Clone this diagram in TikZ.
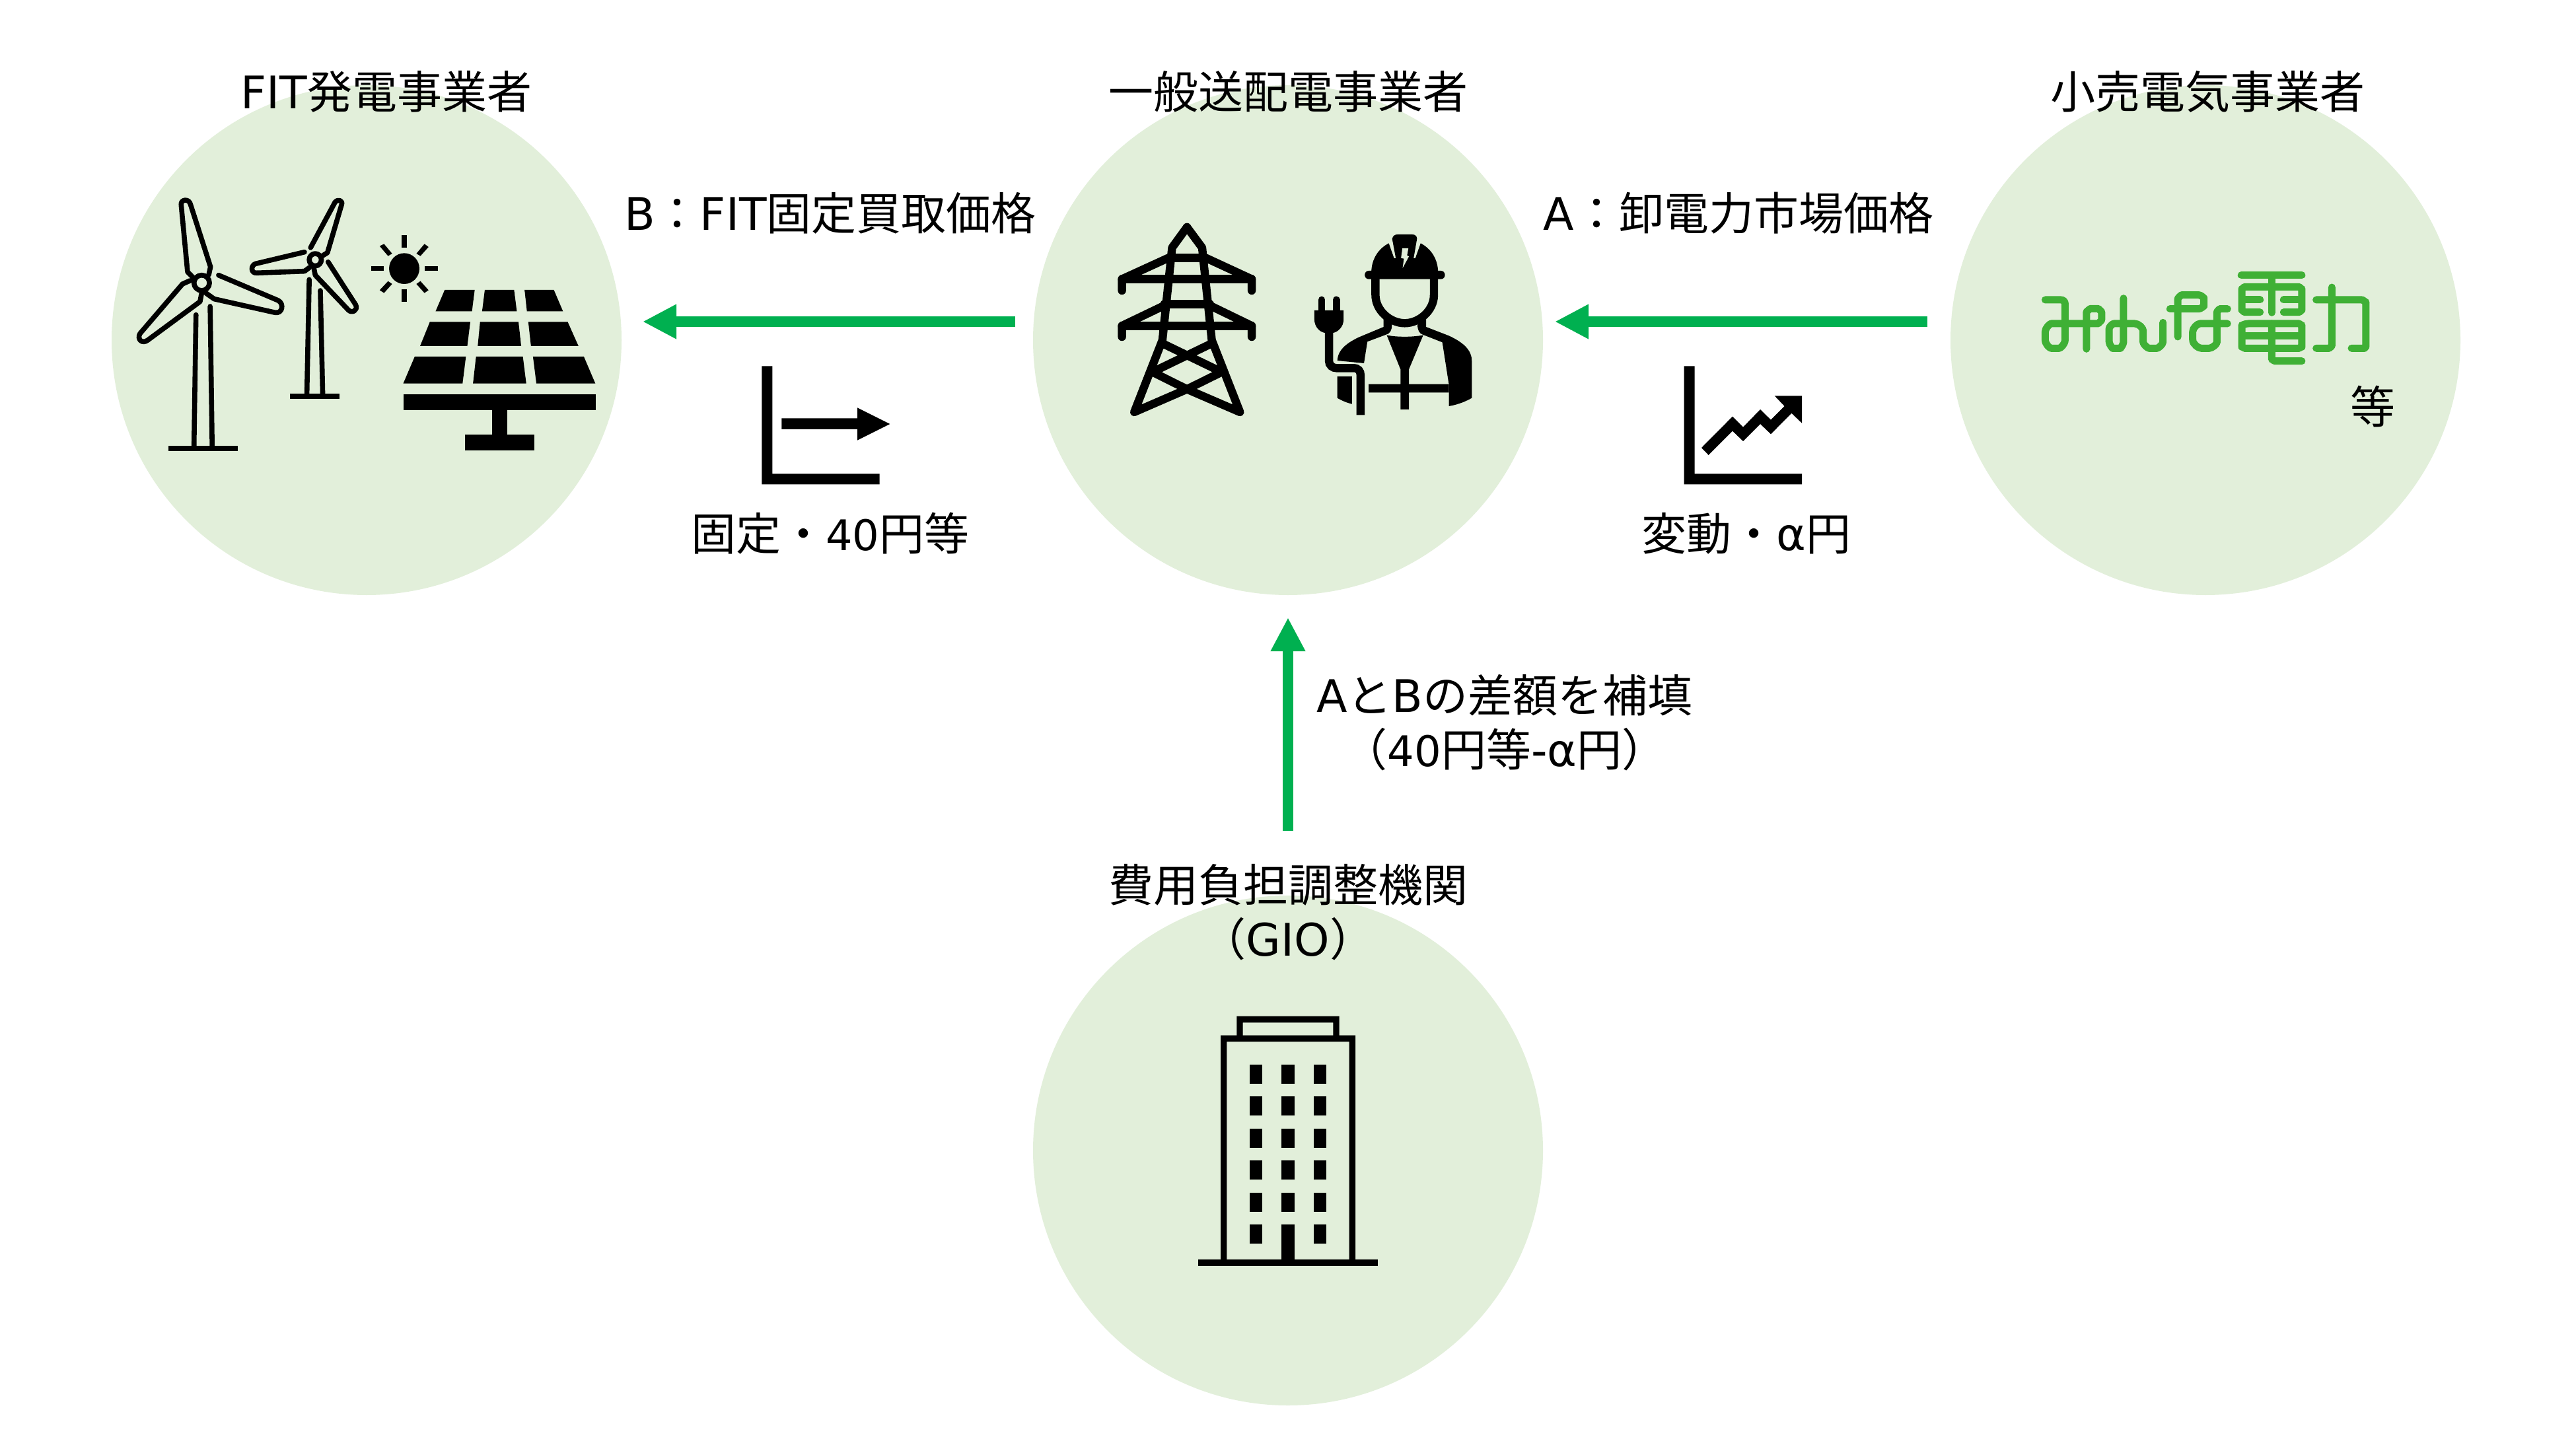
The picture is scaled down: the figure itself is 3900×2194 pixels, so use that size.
\documentclass[tikz,border=0pt]{standalone}
\usepackage{fontspec}
\setmainfont{Noto Sans CJK JP}
\newfontfamily\latinface{DejaVu Sans}
\newfontfamily\digitface[Scale=0.94]{DejaVu Sans}
\newcommand{\ltn}[1]{{\latinface #1}}
\newcommand{\dgt}[1]{{\digitface #1}}
\usetikzlibrary{arrows.meta}
\definecolor{circ}{HTML}{E2EFDA}
\definecolor{arrowgreen}{HTML}{00B050}
\definecolor{logogreen}{HTML}{3FB035}
\tikzset{
  stage/.style={circle,fill=circ,draw=none,minimum size=193pt,inner sep=0pt},
  lab/.style={font=\fontsize{17pt}{20.5pt}\selectfont,inner sep=0pt,align=center,text=black},
  flow/.style={draw=arrowgreen,line width=4.1pt,-{Triangle[length=12.8pt,width=12.3pt]}},
  zA/.style={shift={(160,260)},x=0.12755pt,y=-0.08333pt},
  zB/.style={shift={(1650,320)},x=0.09881pt,y=-0.08333pt},
  zC/.style={shift={(3060,380)},x=0.09881pt,y=-0.08333pt},
  zD/.style={shift={(1780,1500)},x=0.08333pt,y=-0.08333pt},
  zE/.style={shift={(1120,520)},x=0.08333pt,y=-0.08333pt},
  zF/.style={shift={(2520,520)},x=0.08333pt,y=-0.08333pt},
  blade/.style={draw=black,line width=1.9pt,line join=round,line cap=round},
  tower/.style={draw=black,line width=3.1pt,line join=round,line cap=round},
  logo/.style={draw=logogreen,line width=2.75pt,line join=round,line cap=round,rounded corners=1.5pt},
}
\begin{document}
\begin{tikzpicture}[x=0.25pt,y=-0.25pt]
\useasboundingbox (0,0) rectangle (3900,2194);
\fill[white] (0,0) rectangle (3900,2194);
% stages
\node[stage] (gen) at (555,515) {};
\node[stage] (tso) at (1950,515) {};
\node[stage] (ret) at (3339,515) {};
\node[stage] (gio) at (1950,1742) {};
% labels
\node[lab] (tgen) at (585,139) {\ltn{FIT}発電事業者};
\node[lab] (ttso) at (1950,139) {一般送配電事業者};
\node[lab] (tret) at (3342,139) {小売電気事業者};
\node[lab] (lb) at (1257,323) {\ltn{B}：\ltn{FIT}固定買取価格};
\node[lab] (la) at (2632,323) {\ltn{A}：卸電力市場価格};
\node[lab] (fix) at (1257,808) {固定・\dgt{40}円等};
\node[lab] (var) at (2644,808) {変動・\ltn{α}円};
\node[lab] (diff) at (2278,1094) {\ltn{A}と\ltn{B}の差額を補填\\（\dgt{40}円等\ltn{-α}円）};
\node[lab] (tgio) at (1950,1381) {費用負担調整機関\\（\ltn{GIO}）};
\node[lab] (etc) at (3592,615) {等};
% connectors
\coordinate (a1s) at (1537,487);
\coordinate (a1e) at (973,487);
\coordinate (a2s) at (2918,487);
\coordinate (a2e) at (2354,487);
\coordinate (a3s) at (1950,1258);
\coordinate (a3e) at (1950,935);
\draw[flow] (a1s) -- (a1e);
\draw[flow] (a2s) -- (a2e);
\draw[flow] (a3s) -- (a3e);
% wind + solar
\begin{scope}[zA]
 \fill (187,1245) rectangle (392,1270);
 \draw[blade] (268,650) -- (262,1250);
 \draw[blade] (310,612) -- (316,1250);
 \draw[blade] (262,485) -- (243,455) -- (224,150) .. controls (222,125) and (248,120) .. (252,150) -- (311,432) -- (306,468);
 \draw[blade] (335,470) -- (512,585) .. controls (530,600) and (525,645) .. (503,640) -- (322,578) -- (298,552);
 \draw[blade] (250,495) -- (228,510) -- (102,735) .. controls (92,760) and (108,785) .. (125,765) -- (280,590) -- (285,550);
 \draw[blade] (285,505) ellipse [x radius=23,y radius=35];
 \fill (547,1007) rectangle (693,1032);
 \draw[blade] (604,490) -- (597,1010);
 \draw[blade] (637,540) -- (644,1010);
 \draw[blade] (608,345) -- (680,140) .. controls (688,122) and (705,130) .. (700,150) -- (658,368) -- (640,385);
 \draw[blade] (590,365) -- (445,418) .. controls (430,425) and (430,462) .. (448,460) -- (590,452) -- (605,435);
 \draw[blade] (660,410) -- (742,605) .. controls (750,630) and (730,645) .. (720,628) -- (622,470) -- (618,440);
 \draw[blade] (622,400) ellipse [x radius=18,y radius=28];
 % sun
 \fill (886,440) ellipse [x radius=45,y radius=70];
 \fill (879,288) rectangle (893,346);
 \fill (879,534) rectangle (893,592);
 \fill (787,428) rectangle (825,451);
 \fill (947,428) rectangle (985,451);
 \fill (813,338) -- (826,328) -- (850,372) -- (838,383) -- cycle;
 \fill (946,328) -- (958,342) -- (934,383) -- (922,372) -- cycle;
 \fill (838,497) -- (850,510) -- (826,551) -- (813,538) -- cycle;
 \fill (934,497) -- (922,510) -- (946,551) -- (958,538) -- cycle;
 % panel
 \fill (1006,537) -- (1095,537) -- (1087,634) -- (979,634) -- cycle;
 \fill (1125,537) -- (1212,537) -- (1220,634) -- (1117,634) -- cycle;
 \fill (1243,537) -- (1330,537) -- (1357,634) -- (1250,634) -- cycle;
 \fill (962,682) -- (1082,682) -- (1073,792) -- (933,792) -- cycle;
 \fill (1111,682) -- (1225,682) -- (1233,792) -- (1104,792) -- cycle;
 \fill (1254,682) -- (1371,682) -- (1403,792) -- (1262,792) -- cycle;
 \fill (917,840) -- (1069,840) -- (1059,962) -- (883,962) -- cycle;
 \fill (1099,840) -- (1238,840) -- (1248,962) -- (1090,962) -- cycle;
 \fill (1268,840) -- (1419,840) -- (1453,962) -- (1278,962) -- cycle;
 \fill (883,1010) rectangle (1454,1084);
 \fill (1146,1084) rectangle (1192,1195);
 \fill (1066,1195) rectangle (1272,1265);
\end{scope}
% pylon + worker
\begin{scope}[zB]
 \draw[tower] (372,72) -- (315,165) -- (278,585) -- (170,912) -- (372,808) -- (505,730) -- (278,600);
 \draw[tower] (372,72) -- (430,165) -- (467,585) -- (575,912) -- (372,808) -- (240,730) -- (467,600);
 \draw[tower] (315,212) -- (430,212);
 \draw[tower] (123,360) -- (123,308) -- (300,212);
 \draw[tower] (620,360) -- (620,308) -- (445,212);
 \draw[tower] (123,308) -- (620,308);
 \draw[tower] (123,570) -- (123,520) -- (290,425);
 \draw[tower] (620,570) -- (620,520) -- (455,425);
 \draw[tower] (123,520) -- (620,520);
 \draw[tower] (285,422) -- (460,422);
 % helmet
 \fill[rounded corners=1.5pt] (1053,270) rectangle (1360,308);
 \fill (1078,275) .. controls (1080,215) and (1105,170) .. (1145,145) -- (1165,212) -- (1165,275) -- cycle;
 \fill (1334,275) .. controls (1332,215) and (1307,170) .. (1267,145) -- (1247,212) -- (1247,275) -- cycle;
 \fill (1172,214) -- (1158,125) .. controls (1160,112) and (1168,105) .. (1178,105) -- (1235,105) .. controls (1245,105) and (1253,112) .. (1253,125) -- (1240,214) -- cycle;
 \fill (1160,212) rectangle (1252,275);
 \fill[circ] (1197,168) -- (1220,168) -- (1215,200) -- (1222,205) -- (1198,258) -- (1203,215) -- (1192,212) -- cycle;
 \draw[black,line width=3.1pt] (1094,305) -- (1094,380) .. controls (1094,450) and (1150,508) .. (1206,508) .. controls (1262,508) and (1318,450) .. (1318,380) -- (1318,305);
 % shoulders
 \fill (1125,480) -- (1125,525) -- (1030,572) .. controls (990,595) and (950,625) .. (948,678) -- (1050,690) -- (1063,592) -- (1135,560) .. controls (1150,555) and (1157,540) .. (1157,515) -- cycle;
 \fill (1288,480) -- (1288,525) -- (1375,565) .. controls (1430,595) and (1463,630) .. (1463,680) -- (1463,848) .. controls (1430,870) and (1400,880) .. (1375,885) -- (1375,785) -- (1350,595) -- (1275,560) .. controls (1262,555) and (1255,540) .. (1255,515) -- cycle;
 \fill (1137,562) .. controls (1170,572) and (1240,572) .. (1277,562) -- (1222,718) -- (1222,785) -- (1375,785) -- (1375,823) -- (1222,823) -- (1222,900) -- (1190,900) -- (1190,823) -- (1068,823) -- (1068,785) -- (1190,785) -- (1190,718) -- cycle;
 \fill (948,750) -- (1004,750) -- (1004,875) .. controls (985,870) and (965,860) .. (948,848) -- cycle;
 % plug
 \fill (860,450) -- (972,450) -- (972,490) .. controls (972,525) and (950,548) .. (932,552) -- (900,552) .. controls (880,548) and (860,525) .. (860,490) -- cycle;
 \draw[black,line width=2.7pt,line cap=round] (888,402) -- (888,455);
 \draw[black,line width=2.7pt,line cap=round] (944,402) -- (944,455);
 \draw[black,line width=3.1pt] (916,550) -- (916,680) .. controls (916,700) and (930,712) .. (945,712) -- (1010,712) .. controls (1028,712) and (1037,725) .. (1037,745) -- (1037,925);
\end{scope}
% logo
\begin{scope}[zC]
 \draw[logo] (92,222) -- (168,222) -- (168,385) .. controls (168,425) and (150,442) .. (130,442) .. controls (110,442) and (92,425) .. (92,385) .. controls (92,350) and (110,330) .. (130,330) -- (250,330);
 \draw[logo] (250,445) -- (250,295) .. controls (250,275) and (265,262) .. (280,262) .. controls (295,262) and (308,275) .. (308,295) .. controls (308,315) and (295,330) .. (280,330) -- (250,330);
 \draw[logo] (392,215) -- (392,395) .. controls (392,425) and (380,442) .. (365,442) .. controls (350,442) and (337,425) .. (337,395) -- (337,370) .. controls (337,345) and (350,330) .. (370,330) -- (420,330) .. controls (450,330) and (467,350) .. (467,380) -- (467,395) .. controls (467,425) and (485,442) .. (505,442) .. controls (525,442) and (543,425) .. (543,395) -- (543,325);
 \draw[logo] (570,263) -- (600,263);
 \draw[logo] (600,390) -- (600,235) .. controls (600,215) and (612,200) .. (630,200) -- (665,200) .. controls (690,200) and (700,215) .. (700,232) .. controls (700,250) and (688,263) .. (665,263) -- (600,263);
 \draw[logo] (790,263) -- (775,263) .. controls (760,263) and (750,275) .. (750,295) -- (750,395) .. controls (750,425) and (730,442) .. (705,442) .. controls (680,442) and (657,425) .. (657,385) .. controls (657,350) and (675,330) .. (700,330) -- (790,330);
 \draw[logo] (843,110) -- (1075,110);
 \draw[logo] (960,110) -- (960,280);
 \draw[logo] (915,278) -- (870,278) .. controls (855,278) and (845,268) .. (845,250) -- (845,190) .. controls (845,175) and (855,163) .. (870,163) -- (1050,163) .. controls (1065,163) and (1075,175) .. (1075,190) -- (1075,250) .. controls (1075,268) and (1065,278) .. (1050,278) -- (1005,278);
 \draw[logo] (858,222) -- (915,222);
 \draw[logo] (1005,222) -- (1062,222);
 \draw[logo] (870,330) -- (1050,330) .. controls (1065,330) and (1075,340) .. (1075,355) -- (1075,418) .. controls (1075,432) and (1065,442) .. (1050,442) -- (870,442) .. controls (855,442) and (845,432) .. (845,418) -- (845,355) .. controls (845,340) and (855,330) .. (870,330);
 \draw[logo] (858,386) -- (1062,386);
 \draw[logo] (960,330) -- (960,475) .. controls (960,490) and (970,500) .. (985,500) -- (1075,500);
 \draw[logo] (1190,165) -- (1190,412) .. controls (1190,432) and (1180,442) .. (1165,442) -- (1130,442);
 \draw[logo] (1130,222) -- (1290,222) .. controls (1310,222) and (1320,235) .. (1320,250) -- (1320,418) .. controls (1320,432) and (1312,442) .. (1300,442) -- (1265,442);
\end{scope}
% building
\begin{scope}[zD]
 \fill (102,1222) rectangle (918,1251);
 \fill[even odd rule] (204,203) rectangle (816,1230) (232,232) rectangle (788,1230);
 \fill[even odd rule] (277,116) rectangle (743,210) (305,145) rectangle (715,210);
 \foreach \yy in {335,480,626,771,917,1063} {
   \fill (335,\yy) rectangle +(58,87);
   \fill (627,\yy) rectangle +(58,87);
 }
 \foreach \yy in {335,480,626,771,917} {
   \fill (481,\yy) rectangle +(58,87);
 }
 \fill (481,1063) rectangle (539,1230);
\end{scope}
% fixed-price chart
\begin{scope}[zE]
 \fill (100,103) -- (148,103) -- (148,592) -- (635,592) -- (635,640) -- (100,640) -- cycle;
 \fill (190,340) -- (534,340) -- (534,292) -- (682,366) -- (534,440) -- (534,390) -- (190,390) -- cycle;
\end{scope}
% variable-price chart
\begin{scope}[zF]
 \fill (89,103) -- (137,103) -- (137,592) -- (624,592) -- (624,640) -- (89,640) -- cycle;
 \fill (168,474) -- (309,332) -- (357,380) -- (435,300) -- (483,347) -- (545,285) -- (500,238) -- (624,238) -- (624,362) -- (577,317) -- (483,412) -- (435,366) -- (357,444) -- (309,398) -- (200,507) -- cycle;
\end{scope}
\end{tikzpicture}
\end{document}
